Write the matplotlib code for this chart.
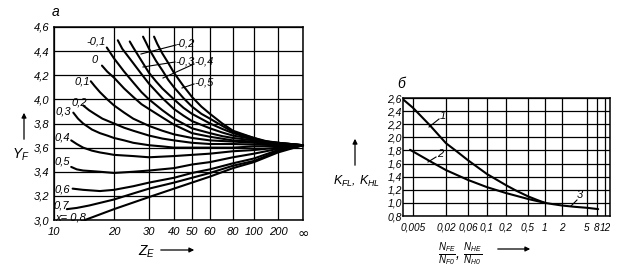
"""Recreate the two-panel gear chart: Y_F vs Z_E (a) and K_FL, K_HL vs N_E/N_0 (b)."""

import matplotlib

matplotlib.use("Agg")
import matplotlib.pyplot as plt
import numpy as np
from matplotlib.patches import FancyArrowPatch
from matplotlib.lines import Line2D

plt.rcParams["font.family"] = ["Liberation Sans", "DejaVu Sans"]
plt.rcParams["font.style"] = "italic"
plt.rcParams["mathtext.fontset"] = "custom"
plt.rcParams["mathtext.rm"] = "Liberation Sans"
plt.rcParams["mathtext.it"] = "Liberation Sans:italic"
plt.rcParams["font.size"] = 7.5

W_PX, H_PX = 627, 278
Z_INF = 1e9  # stands for the "infinity" tick

# ---- panel a: form factor Y_F against equivalent tooth number Z_E ----
z_ticks = [10, 20, 30, 40, 50, 60, 80, 100, 200, Z_INF]
z_tick_labels = ["10", "20", "30", "40", "50", "60", "80", "100", "200", "∞"]
yf_ticks = [3.0, 3.2, 3.4, 3.6, 3.8, 4.0, 4.2, 4.4, 4.6]
yf_tick_labels = ["3,0", "3,2", "3,4", "3,6", "3,8", "4,0", "4,2", "4,4", "4,6"]

shift_values = [-0.5, -0.4, -0.3, -0.2, -0.1, 0.0, 0.1, 0.2, 0.3, 0.4, 0.5, 0.6, 0.7, 0.8]
curve_z = [
    [31.8, 33, 35, 37.5, 40, 45, 50, 55, 60, 70, 80, 100, 140, 200, Z_INF],
    [28, 29, 30, 32.5, 35, 37.5, 40, 45, 50, 55, 60, 70, 80, 100, 140, 200, Z_INF],
    [24, 25, 27.5, 30, 32.5, 35, 40, 45, 50, 60, 70, 80, 100, 140, 200, Z_INF],
    [20.9, 22, 25, 27.5, 30, 35, 40, 45, 50, 60, 70, 80, 100, 140, 200, Z_INF],
    [18.4, 20, 22.5, 25, 27.5, 30, 35, 40, 50, 60, 70, 80, 100, 140, 200, Z_INF],
    [17.4, 18.5, 20, 22.5, 25, 27.5, 30, 35, 40, 50, 60, 80, 100, 140, 200, Z_INF],
    [15.3, 16, 17, 18.5, 20, 22.5, 25, 30, 35, 40, 50, 60, 80, 100, 200, Z_INF],
    [14.0, 15, 16, 17.5, 20, 22.5, 25, 30, 35, 40, 50, 60, 80, 100, 200, Z_INF],
    [12.5, 13.2, 14, 15.5, 17, 18.5, 20, 22.5, 25, 30, 35, 40, 50, 60, 80, 100, 200, Z_INF],
    [12.2, 13, 14, 15.5, 17, 18.5, 20, 25, 30, 40, 50, 60, 80, 100, 200, Z_INF],
    [12.2, 13, 14, 15.5, 17, 20, 25, 30, 40, 50, 60, 80, 100, 200, Z_INF],
    [12.4, 14, 17, 20, 25, 30, 40, 50, 60, 80, 100, 200, Z_INF],
    [11.6, 13, 15, 20, 25, 30, 40, 50, 60, 80, 100, 200, Z_INF],
    [14.3, 20, 30, 40, 50, 60, 80, 100, 200, Z_INF],
]
curve_yf = [
    [4.52, 4.46, 4.38, 4.30, 4.22, 4.11, 4.02, 3.94, 3.88, 3.80, 3.74, 3.68, 3.655, 3.64, 3.62],
    [4.52, 4.47, 4.42, 4.32, 4.24, 4.16, 4.10, 4.01, 3.94, 3.88, 3.84, 3.78, 3.73, 3.68, 3.65, 3.64, 3.62],
    [4.48, 4.43, 4.32, 4.22, 4.15, 4.09, 4.00, 3.93, 3.88, 3.80, 3.755, 3.72, 3.67, 3.65, 3.64, 3.62],
    [4.49, 4.42, 4.30, 4.21, 4.13, 4.01, 3.92, 3.865, 3.82, 3.76, 3.725, 3.70, 3.67, 3.645, 3.63, 3.62],
    [4.43, 4.34, 4.23, 4.14, 4.06, 4.00, 3.91, 3.84, 3.76, 3.72, 3.695, 3.68, 3.66, 3.64, 3.63, 3.62],
    [4.28, 4.23, 4.18, 4.09, 4.02, 3.96, 3.92, 3.85, 3.79, 3.72, 3.69, 3.66, 3.65, 3.635, 3.63, 3.62],
    [4.15, 4.11, 4.06, 4.00, 3.95, 3.89, 3.84, 3.78, 3.74, 3.71, 3.68, 3.66, 3.65, 3.64, 3.63, 3.62],
    [3.95, 3.91, 3.88, 3.84, 3.80, 3.765, 3.74, 3.70, 3.675, 3.66, 3.64, 3.63, 3.63, 3.625, 3.62, 3.62],
    [3.89, 3.84, 3.80, 3.75, 3.72, 3.70, 3.68, 3.66, 3.64, 3.62, 3.61, 3.60, 3.60, 3.60, 3.60, 3.61, 3.61, 3.62],
    [3.66, 3.63, 3.60, 3.575, 3.56, 3.55, 3.54, 3.53, 3.52, 3.53, 3.54, 3.55, 3.57, 3.58, 3.60, 3.62],
    [3.44, 3.42, 3.41, 3.405, 3.40, 3.39, 3.40, 3.41, 3.43, 3.46, 3.48, 3.52, 3.55, 3.59, 3.62],
    [3.26, 3.25, 3.24, 3.25, 3.28, 3.31, 3.35, 3.39, 3.42, 3.47, 3.51, 3.58, 3.62],
    [3.09, 3.10, 3.12, 3.17, 3.22, 3.26, 3.31, 3.35, 3.39, 3.45, 3.49, 3.57, 3.62],
    [3.00, 3.09, 3.19, 3.26, 3.31, 3.36, 3.43, 3.48, 3.56, 3.62],
]

# ---- panel b: durability factors against cycle ratio ----
ratio_ticks = [0.005, 0.02, 0.06, 0.1, 0.2, 0.5, 1, 2, 5, 8, 12]
ratio_tick_labels = ["0,005", "0,02", "0,06", "0,1", "0,2", "0,5", "1", "2", "5", "8", "12"]
k_ticks = [0.8, 1.0, 1.2, 1.4, 1.6, 1.8, 2.0, 2.2, 2.4, 2.6]
k_tick_labels = ["0,8", "1,0", "1,2", "1,4", "1,6", "1,8", "2,0", "2,2", "2,4", "2,6"]

k1_ratio = [0.0035, 0.005, 0.01, 0.02, 0.035, 0.06, 0.1, 0.2, 0.3, 0.5, 0.7, 1.0]
k1_value = [2.58, 2.45, 2.19, 1.91, 1.78, 1.65, 1.44, 1.27, 1.19, 1.10, 1.05, 1.00]
k2_ratio = [0.0045, 0.01, 0.02, 0.06, 0.1, 0.2, 0.5, 1.0]
k2_value = [1.81, 1.64, 1.50, 1.35, 1.24, 1.15, 1.06, 1.00]
k3_ratio = [1.0, 1.4, 2.0, 3.2, 5.0, 8.5]
k3_value = [1.00, 0.98, 0.96, 0.94, 0.925, 0.905]


# non-uniform Z_E axis of the original nomogram: log-like up to 200, squeezed to infinity
Z_SPLIT = np.log10(200)
Z_TICK_POS = np.array([0, 60, 95, 120, 138, 156, 179, 200, 224, 249], dtype=float)


def _z_to_g(z):
    z = np.asarray(z, dtype=float)
    with np.errstate(divide="ignore", invalid="ignore"):
        g = np.where(z <= 200, np.log10(np.clip(z, 1e-9, None)), Z_SPLIT + 1 - 200 / z)
    return g


Z_TICK_G = _z_to_g(z_ticks)


def z_forward(z):
    return np.interp(_z_to_g(z), Z_TICK_G, Z_TICK_POS)


def z_inverse(p):
    g = np.interp(p, Z_TICK_POS, Z_TICK_G)
    with np.errstate(divide="ignore", invalid="ignore"):
        z = np.where(g <= Z_SPLIT, 10**g, 200 / np.clip(1 - (g - Z_SPLIT), 1e-12, None))
    return z


# the cycle-ratio axis of the nomogram is only roughly logarithmic
R_LIMITS = (0.0035, 13.5)
R_SCALE_VALUES = np.log10([R_LIMITS[0]] + ratio_ticks + [R_LIMITS[1]])
R_SCALE_POS = np.array([0, 10, 43, 65, 84, 103, 125, 142, 159, 184, 194, 202, 207], dtype=float)


def r_forward(r):
    r = np.clip(np.asarray(r, dtype=float), 1e-9, None)
    return np.interp(np.log10(r), R_SCALE_VALUES, R_SCALE_POS)


def r_inverse(p):
    return 10 ** np.interp(p, R_SCALE_POS, R_SCALE_VALUES)


def fig_xy(px, py):
    return px / W_PX, 1 - py / H_PX


def add_arrow(fig, p0, p1):
    fig.add_artist(
        FancyArrowPatch(
            fig_xy(*p0), fig_xy(*p1), transform=fig.transFigure,
            arrowstyle="-|>", mutation_scale=7, color="black", linewidth=0.9,
        )
    )


def add_leader(fig, p0, p1):
    (x0, y0), (x1, y1) = fig_xy(*p0), fig_xy(*p1)
    fig.add_artist(Line2D([x0, x1], [y0, y1], transform=fig.transFigure, color="black", linewidth=0.8))


def style_axis(ax):
    ax.grid(True, color="black", linewidth=0.9)
    ax.tick_params(length=0, labelsize=7.5, colors="black")
    for spine in ax.spines.values():
        spine.set_linewidth(1.1)


def fmt_shift(value):
    if value == 0:
        return "0"
    return f"{value:.1f}".replace(".", ",")


def main():
    fig = plt.figure(figsize=(W_PX / 100, H_PX / 100), dpi=100)
    fig.patch.set_facecolor("white")

    # panel a
    ax_a = fig.add_axes([54 / W_PX, 1 - 220 / H_PX, 249 / W_PX, 193 / H_PX])
    ax_a.set_xscale("function", functions=(z_forward, z_inverse))
    ax_a.set_xlim(10, Z_INF)
    ax_a.set_ylim(3.0, 4.6)
    ax_a.set_xticks(z_ticks, z_tick_labels)
    ax_a.set_yticks(yf_ticks, yf_tick_labels)
    ax_a.minorticks_off()
    style_axis(ax_a)
    ax_a.tick_params(axis="x", pad=5, labelsize=8)
    ax_a.tick_params(axis="y", pad=3, labelsize=8)
    labels = ax_a.get_xticklabels()
    labels[-1].set_fontsize(10)
    labels[-1].set_fontstyle("normal")
    labels[-1].set_fontfamily("DejaVu Sans")

    for zs, ys in zip(curve_z, curve_yf):
        ax_a.plot(zs, ys, color="black", linewidth=1.5, solid_capstyle="round",
                  solid_joinstyle="round", clip_on=False)

    shift_label_pos = {
        -0.1: (96, 42), 0.0: (95, 60), 0.1: (82, 81), 0.2: (79, 103), 0.3: (63, 112),
        0.4: (62, 137), 0.5: (62, 162), 0.6: (62, 189), 0.7: (61, 206),
        -0.2: (185, 43), -0.3: (185, 62), -0.4: (204, 62), -0.5: (204, 83),
    }
    for value, (px, py) in shift_label_pos.items():
        fig.text(*fig_xy(px, py), fmt_shift(value), ha="center", va="center", fontsize=8)
    fig.text(*fig_xy(71, 217), "x= 0,8", ha="center", va="center", fontsize=8)

    add_leader(fig, (176, 45), (141, 54))
    add_leader(fig, (175, 62), (143, 67))
    add_leader(fig, (194, 64), (163, 78))
    add_leader(fig, (194, 84), (182, 88))

    fig.text(*fig_xy(56, 12), "а", ha="center", va="center", fontsize=10)
    fig.text(*fig_xy(21, 155), r"$Y_F$", ha="center", va="center", fontsize=10)
    add_arrow(fig, (24, 142), (24, 110))
    fig.text(*fig_xy(147, 252), r"$Z_E$", ha="center", va="center", fontsize=10)
    add_arrow(fig, (158, 250), (197, 250))

    # panel b
    ax_b = fig.add_axes([403 / W_PX, 1 - 216 / H_PX, 207 / W_PX, 118 / H_PX])
    ax_b.set_xscale("function", functions=(r_forward, r_inverse))
    ax_b.set_xlim(*R_LIMITS)
    ax_b.set_ylim(0.8, 2.6)
    ax_b.set_xticks(ratio_ticks, ratio_tick_labels)
    ax_b.set_yticks(k_ticks, k_tick_labels)
    ax_b.minorticks_off()
    style_axis(ax_b)
    ax_b.tick_params(axis="x", pad=5, labelsize=7.2)
    ax_b.tick_params(axis="y", pad=1, labelsize=7.5)

    for xs, ys in ((k1_ratio, k1_value), (k2_ratio, k2_value), (k3_ratio, k3_value)):
        ax_b.plot(xs, ys, color="black", linewidth=1.5, solid_capstyle="round", solid_joinstyle="round")

    fig.text(*fig_xy(443, 116), "1", ha="center", va="center", fontsize=8)
    add_leader(fig, (439, 119), (429, 127))
    fig.text(*fig_xy(440, 154), "2", ha="center", va="center", fontsize=8)
    add_leader(fig, (436, 157), (428, 162))
    fig.text(*fig_xy(580, 195), "3", ha="center", va="center", fontsize=8)
    add_leader(fig, (577, 200), (571, 206))

    fig.text(*fig_xy(401, 84), "б", ha="center", va="center", fontsize=10)
    fig.text(*fig_xy(357, 181), r"$K_{FL},\,K_{HL}$", ha="center", va="center", fontsize=9)
    add_arrow(fig, (355, 168), (355, 136))
    fig.text(*fig_xy(460, 254), r"$\frac{N_{FE}}{N_{F0}},\,\frac{N_{HE}}{N_{H0}}$",
             ha="center", va="center", fontsize=10)
    add_arrow(fig, (495, 249), (533, 249))

    fig.savefig("out.png", dpi=100)
    plt.close(fig)


if __name__ == "__main__":
    main()
